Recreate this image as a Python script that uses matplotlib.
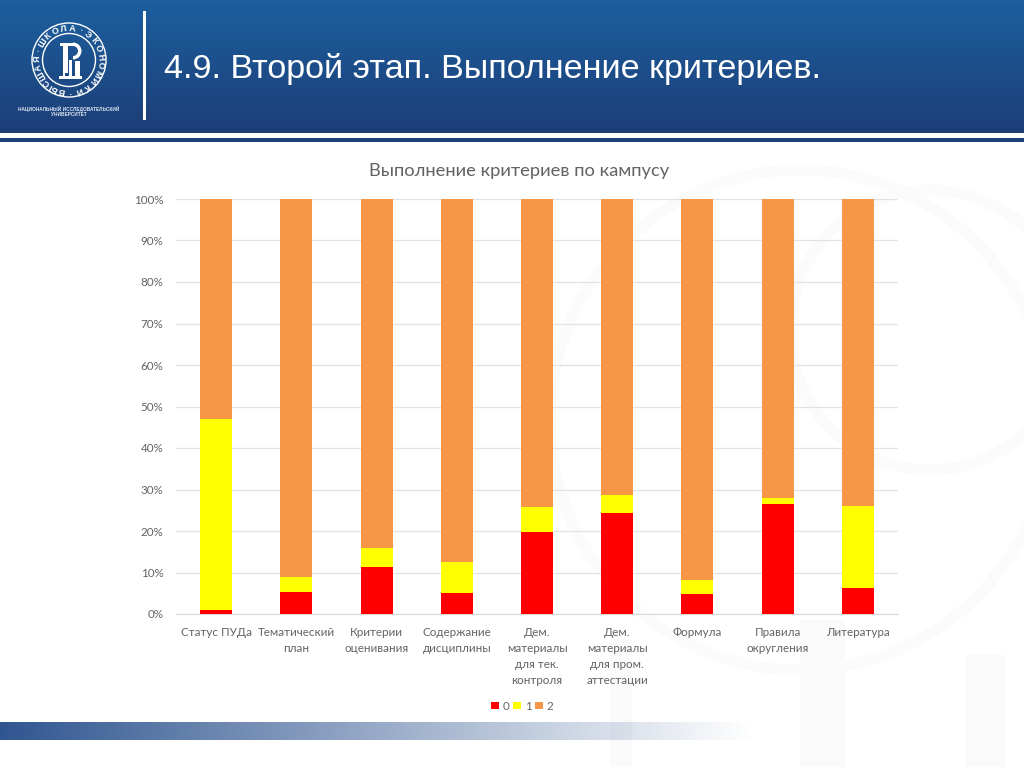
#!/usr/bin/env python3
"""Campus criteria chart on the slide template."""

import numpy as np
import matplotlib
matplotlib.use('Agg')
import matplotlib.pyplot as plt
from matplotlib.colors import LinearSegmentedColormap
from matplotlib.patches import Circle, Rectangle, Wedge

CATEGORIES = ['Статус ПУДа', 'Тематический\nплан', 'Критерии\nоценивания',
              'Содержание\nдисциплины', 'Дем.\nматериалы\nдля тек.\nконтроля',
              'Дем.\nматериалы\nдля пром.\nаттестации', 'Формула',
              'Правила\nокругления', 'Литература']
SCORE_0 = [1.0, 5.3, 11.3, 5.1, 19.8, 24.4, 4.9, 26.6, 6.2]
SCORE_1 = [46.0, 3.7, 4.7, 7.4, 5.9, 4.3, 3.2, 1.3, 19.8]
SCORE_2 = [53.0, 91.0, 84.0, 87.5, 74.3, 71.3, 91.9, 72.1, 74.0]
SERIES_NAMES = ['0', '1', '2']
SERIES_COLORS = ['#ff0000', '#ffff00', '#f79646']

SLIDE_TITLE = '4.9. Второй этап. Выполнение критериев.'
CHART_TITLE = 'Выполнение критериев по кампусу'
SEAL_TEXT = 'ВЫСШАЯ·ШКОЛА·ЭКОНОМИКИ·'

W, H = 1024, 767
SANS = ['Lato', 'Open Sans', 'DejaVu Sans']
GREY = '#636363'

fig = plt.figure(figsize=(W / 100, H / 100), dpi=100, facecolor='white')

# slide background in pixel coordinates
bg = fig.add_axes([0, 0, 1, 1])
bg.set_xlim(0, W)
bg.set_ylim(H, 0)
bg.axis('off')

# faint watermark shapes on the right side
for x0, y0, w, h in [(800, 620, 45, 147), (965, 655, 40, 112), (610, 640, 22, 127)]:
    bg.add_patch(Rectangle((x0, y0), w, h, color='#fafafa', lw=0))
for cx, cy, r in [(800, 420, 250), (930, 330, 140)]:
    bg.add_patch(Circle((cx, cy), r, fill=False, ec='#fbfbfb', lw=8))

# header
header_cm = LinearSegmentedColormap.from_list('hdr', ['#1d5f9f', '#1c3e77'])
bg.imshow(np.linspace(0, 1, 133)[:, None], extent=(0, W, 133, 0), cmap=header_cm,
          aspect='auto', zorder=2)
bg.add_patch(Rectangle((0, 137.5), W, 4, color='#1e3f78', lw=0, zorder=2))
bg.add_patch(Rectangle((143, 11), 2.5, 109, color='white', lw=0, zorder=3))
bg.text(164, 69, SLIDE_TITLE, color='white', fontsize=24.6, family='Liberation Sans',
        va='center', ha='left', zorder=3)

# seal
cx, cy = 69, 60
bg.add_patch(Circle((cx, cy), 37, fill=False, ec='white', lw=1.0, zorder=3))
bg.add_patch(Circle((cx, cy), 26.5, fill=False, ec='white', lw=1.0, zorder=3))
for i, ch in enumerate(SEAL_TEXT):
    ang = 2 * np.pi * (i + 0.5) / len(SEAL_TEXT) + np.pi * 1.03
    bg.text(cx + 31.5 * np.sin(ang), cy - 31.5 * np.cos(ang), ch, color='white', fontsize=6.4,
            family='Liberation Sans', weight='bold', ha='center', va='center',
            rotation=-np.degrees(ang), rotation_mode='anchor', zorder=3)

# emblem: letter stem, bowl, leg and the base below them
for x0, y0, w, h in [(60, 43, 14, 2.5), (62.5, 43, 5.5, 30), (59, 76, 23, 2.5),
                     (62.5, 72, 2.5, 5), (69, 60, 2.5, 17), (74.5, 61, 5, 16)]:
    bg.add_patch(Rectangle((x0, y0), w, h, color='white', lw=0, zorder=3))
bg.add_patch(Wedge((73, 51), 8.5, -90, 90, width=3.5, color='white', lw=0, zorder=3))

bg.text(69, 108.5, 'НАЦИОНАЛЬНЫЙ ИССЛЕДОВАТЕЛЬСКИЙ', color='#dfe6f0', fontsize=3.4,
        family='Liberation Sans', weight='bold', ha='center', va='center', zorder=3)
bg.text(69, 114.5, 'УНИВЕРСИТЕТ', color='#dfe6f0', fontsize=3.4,
        family='Liberation Sans', weight='bold', ha='center', va='center', zorder=3)

# footer band fading out to the right
band = np.ones((1, 256, 4))
band[0, :, :3] = matplotlib.colors.to_rgb('#2f5590')
band[0, :, 3] = np.linspace(1, 0, 256)
bg.imshow(band, extent=(0, 755, 740, 722), aspect='auto', zorder=2)
bg.set_xlim(0, W)
bg.set_ylim(H, 0)

# chart
ax = fig.add_axes([176 / W, 1 - 614 / H, 722 / W, 415 / H])
ax.patch.set_alpha(0)

x = np.arange(len(CATEGORIES))
bottom = np.zeros(len(CATEGORIES))
for name, values, color in zip(SERIES_NAMES, [SCORE_0, SCORE_1, SCORE_2], SERIES_COLORS):
    ax.bar(x, values, width=0.4, bottom=bottom, color=color, label=name, zorder=3)
    bottom += np.array(values)

ax.set_xlim(-0.5, len(CATEGORIES) - 0.5)
ax.set_ylim(0, 100)
ax.set_yticks(np.arange(0, 101, 10))
ax.set_yticklabels([f'{v}%' for v in range(0, 101, 10)], family=SANS, fontsize=8.4, color=GREY)
ax.set_xticks(x)
ax.set_xticklabels(CATEGORIES, family=SANS, fontsize=8.4, color=GREY, linespacing=1.58)
ax.tick_params(axis='both', length=0)
ax.tick_params(axis='x', pad=9)
ax.tick_params(axis='y', pad=9)
ax.grid(axis='y', color='#e2e2e2', lw=0.9, zorder=0)
for side in ['top', 'right', 'left']:
    ax.spines[side].set_visible(False)
ax.spines['bottom'].set_color('#d9d9d9')

bg.text(519.5, 171, CHART_TITLE, family=SANS, fontsize=13.2, color=GREY, ha='center', va='center')

leg = ax.legend(loc='center', bbox_to_anchor=(522.5 / W, 1 - 706 / H), bbox_transform=fig.transFigure,
                ncol=3, frameon=False, handlelength=0.65, handleheight=0.65,
                handletextpad=0.35, columnspacing=0.3, prop={'family': SANS, 'size': 8.4})
for t in leg.get_texts():
    t.set_color(GREY)

fig.savefig('out.png', dpi=100)
